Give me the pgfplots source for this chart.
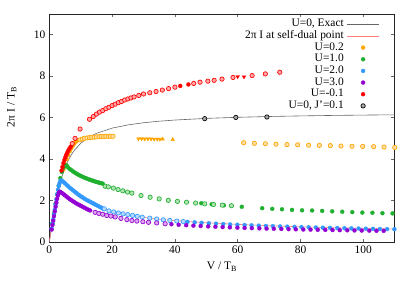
\documentclass[border=0pt]{standalone}
\usepackage{fontspec}
\setmainfont{Liberation Serif}
\usepackage{pgfplots}
\pgfplotsset{compat=1.18}
\definecolor{cO}{HTML}{FFA500}
\definecolor{cG}{HTML}{20B030}
\definecolor{cB}{HTML}{3399FF}
\definecolor{cP}{HTML}{9400D3}
\definecolor{cR}{HTML}{FF0000}
\definecolor{cSD}{HTML}{FF8080}
\pgfplotsset{
  mklegend/.style={legend image code/.code={\draw[mark repeat=2,mark phase=2,##1] plot coordinates {(0cm,0cm) (0.565cm,0cm) (1.13cm,0cm)};}},
  mk/.style={only marks, mark=*, mark size=2.0pt, color=#1, mark options={fill=#1, draw=#1, line width=0.3pt}, mklegend},
  rg/.style={only marks, mark=*, mark size=2.2pt, color=#1, mark options={draw=#1, fill=#1!35, line width=0.65pt}, forget plot},
  trd/.style={only marks, mark=triangle*, mark size=2.1pt, color=#1, mark options={draw=#1, fill=#1, rotate=180}, forget plot},
  tru/.style={only marks, mark=triangle*, mark size=2.1pt, color=#1, mark options={draw=#1, fill=#1}, forget plot},
  ln/.style={no marks, legend image code/.code={\draw[##1] (0cm,0cm) -- (1.13cm,0cm);}},
}
\begin{document}
\fontsize{11.5}{13.5}\selectfont
\begin{tikzpicture}[font=\fontsize{11.5}{13.5}\selectfont]
\begin{axis}[
  scale only axis, width=345.4bp, height=228bp,
  xmin=0, xmax=110, ymin=0, ymax=11,
  xtick={0,20,...,100}, ytick={0,2,...,10},
  tick align=inside, major tick length=3.5bp,
  tick style={black!60, line width=0.5pt},
  axis line style={black!85, line width=0.7pt},
  /pgf/number format/assume math mode=true,
  tick label style={font=\fontsize{11.5}{13.5}\selectfont},
  label style={font=\fontsize{11.5}{13.5}\selectfont},
  xlabel={V / T\textsubscript{B}},
  ylabel={2π I / T\textsubscript{B}},
  xlabel style={at={(axis description cs:0.5,-0.11)}, anchor=center},
  ylabel style={at={(axis description cs:-0.109,0.592)}, anchor=center},
  legend plot pos=right,
  legend cell align=right,
  legend style={draw=none, fill=none, at={(axis description cs:0.965,0.99)}, anchor=north east,
    font=\fontsize{11.5}{13.5}\selectfont,
    row sep=0pt, nodes={inner ysep=1.2pt, inner xsep=3pt, text height=7.3pt, text depth=2pt}},
]
% exact U=0
\addplot[ln, color=black!60, line width=0.6pt] coordinates {
(0,0) (0.5,0.497) (1,0.980) (1.5,1.435) (2,1.855) (2.5,2.234) (3,2.574) (3.5,2.875) (4,3.142)
(5,3.585) (6,3.931) (7,4.207) (8,4.429) (10,4.761) (12,4.996) (15,5.241) (20,5.494) (25,5.648)
(30,5.753) (35,5.828) (40,5.884) (50,5.964) (60,6.016) (70,6.055) (80,6.083) (90,6.106) (100,6.123) (110,6.137)};
\addlegendentry{U=0, Exact}
% self-dual
\addplot[ln, color=cSD, line width=0.6pt] coordinates {
(0,0) (0.5,0.43) (1,0.86) (1.5,1.3) (2,1.75) (2.5,2.2) (3,2.6) (3.5,2.85) (4,2.93) (4.5,2.9)
(5,2.83) (6,2.69) (7,2.56) (8,2.44) (10,2.2) (12,2.02) (14,1.86) (17,1.62) (20,1.46) (25,1.31)
(30,1.19) (35,1.1) (40,1.03) (50,0.93) (60,0.85) (70,0.785) (80,0.735) (90,0.695) (100,0.66) (110,0.63)};
\addlegendentry{2π I at self-dual point}
% U=0.2
\addplot[mk=cO] coordinates {
(4.5,3.5) (5,3.75) (5.5,4.0) (6,4.2) (6.5,4.38) (7,4.52) (7.5,4.65) (8,4.76) (8.5,4.85) (9,4.9)};
\addlegendentry{U=0.2}
\addplot[rg=cO] coordinates {
(9.8,4.93) (10.5,4.97) (11.2,5.0) (12,5.02) (12.8,5.04) (13.5,5.05) (14.3,5.06) (15,5.07)
(15.8,5.08) (16.5,5.09) (17.3,5.09) (18,5.1) (18.8,5.1) (19.5,5.1) (20.3,5.1)
(61.9,4.79) (65.3,4.76) (68.8,4.74) (72.2,4.72) (75.7,4.70) (79.1,4.69) (82.6,4.67) (86.0,4.66)
(89.5,4.65) (92.9,4.63) (96.4,4.62) (99.8,4.61) (103.3,4.60) (106.6,4.58) (110,4.56)};
\addplot[trd=cO] coordinates {
(28.4,4.98) (29.4,4.98) (30.4,4.97) (31.4,4.97) (32.4,4.97) (33.4,4.96) (34.4,4.96) (35.2,4.96)};
\addplot[tru=cO] coordinates {(36.1,4.96) (39.3,4.94)};
% U=1.0
\addplot[mk=cG] coordinates {
(1,0.9) (1.5,1.38) (2,1.85) (2.5,2.3) (3,2.72) (3.5,3.08) (4,3.38) (4.5,3.58) (5,3.68) (5.5,3.70)
(6,3.594) (6.5,3.528) (7,3.467) (7.5,3.411) (8,3.36) (8.5,3.313) (9,3.269) (9.5,3.228) (10,3.189)
(10.5,3.153) (11,3.119) (11.5,3.087) (12,3.056) (12.5,3.027) (13,3.0) (13.5,2.973) (14,2.948)
(14.5,2.924) (15,2.9) (15.5,2.878) (16,2.857) (16.5,2.836) (17,2.817)
(48.4,1.87) (51.7,1.82) (55.6,1.77) (61.3,1.70) (67.8,1.63) (71,1.60) (74.1,1.58) (77.3,1.55)
(80.5,1.53) (83.7,1.52) (86.9,1.50) (90.1,1.48) (93.3,1.46) (96.5,1.44) (99.7,1.42) (102.9,1.41)
(106.1,1.39) (109.3,1.38)};
\addlegendentry{U=1.0}
\addplot[rg=cG] coordinates {
(17.8,2.69) (18.8,2.66) (20.4,2.60) (21.9,2.53) (23.4,2.47) (24.9,2.41) (26.3,2.36) (29.2,2.24)
(32.1,2.16) (35,2.08) (37.9,2.01) (40.8,1.96) (43.7,1.92) (46.6,1.88) (49.5,1.84) (52.3,1.81)
(55.1,1.78) (58,1.75)};
% U=2.0
\addplot[mk=cB] coordinates {
(0.75,0.65) (1,0.88) (1.25,1.1) (1.5,1.33) (1.75,1.56) (2,1.8) (2.25,2.05) (2.5,2.3) (2.75,2.52)
(3,2.7) (3.25,2.83) (3.5,2.92) (3.75,2.96) (4,2.96) (4.5,2.90) (5,2.83) (5.5,2.76) (6,2.69)
(6.5,2.62) (7,2.56) (7.5,2.50) (8,2.44) (8.5,2.38) (9,2.32) (9.5,2.26) (10,2.21) (10.5,2.16)
(11,2.11) (11.5,2.06) (12,2.02) (12.5,1.98) (13,1.94) (13.5,1.90) (14,1.86) (14.5,1.82) (15,1.78)
(15.5,1.74) (16,1.70) (16.5,1.66) (17,1.62)
(44.0,0.972) (46.3,0.948) (48.5,0.926) (50.8,0.905) (53.1,0.885) (55.4,0.867) (57.6,0.850)
(59.9,0.833) (62.2,0.818) (64.4,0.804) (66.7,0.790) (69.0,0.776) (71.2,0.764) (73.5,0.752)
(75.8,0.741) (78.1,0.730) (80.3,0.720) (82.6,0.710) (84.9,0.700) (87.1,0.691) (89.4,0.682)
(91.7,0.674) (94.0,0.665) (96.2,0.658) (98.5,0.650) (100.8,0.642) (103.1,0.635) (105.3,0.629)
(107.6,0.622) (109.9,0.615)};
\addlegendentry{U=2.0}
\addplot[rg=cB] coordinates {
(17.5,1.60) (19,1.50) (20.5,1.45) (22,1.40) (23.5,1.36) (25,1.32) (26.5,1.28) (28,1.24)
(29.6,1.20) (32,1.15) (34.2,1.11) (36.3,1.07) (38.4,1.04) (40.6,1.01) (42.7,0.985)};
% U=3.0
\addplot[mk=cP] coordinates {
(0.75,0.6) (1,0.82) (1.25,1.03) (1.5,1.25) (1.75,1.48) (2,1.7) (2.25,1.9) (2.5,2.08) (2.75,2.24)
(3,2.36) (3.25,2.42) (3.5,2.42) (4,2.37) (4.5,2.31) (5,2.25) (5.5,2.19) (6,2.13) (6.5,2.07)
(7,2.02) (7.5,1.97) (8,1.92) (8.5,1.87) (9,1.83) (9.5,1.79) (10,1.75) (10.5,1.71) (11,1.67)
(11.5,1.63) (12,1.59) (12.5,1.55) (13,1.52)
(38.9,0.858) (41.2,0.833) (43.6,0.810) (45.9,0.790) (48.2,0.771) (50.6,0.752) (52.9,0.736)
(55.2,0.720) (57.5,0.706) (59.9,0.691) (62.2,0.680) (64.5,0.668) (66.9,0.657) (69.2,0.647)
(71.5,0.638) (73.9,0.628) (76.2,0.620) (78.5,0.612) (80.9,0.604) (83.2,0.597) (85.5,0.590)
(87.9,0.583) (90.2,0.576) (92.5,0.570) (94.9,0.564) (97.2,0.558) (99.5,0.552) (101.9,0.547)
(104.2,0.542) (106.5,0.537)};
\addlegendentry{U=3.0}
\addplot[rg=cP] coordinates {
(14.6,1.43) (15.8,1.38) (17,1.34) (18.3,1.28) (19.6,1.25) (21,1.21) (22.8,1.14) (24.7,1.08)
(26.3,1.04) (27.9,1.01) (29.8,0.98) (31.6,0.95) (34.2,0.92) (36.9,0.88)};
% U=-0.1
\addplot[mk=cR] coordinates {
(3.9,3.45) (4.2,3.62) (4.5,3.8) (4.8,3.95) (5.1,4.08) (5.4,4.2) (5.7,4.3) (6.0,4.4) (6.4,4.5) (6.8,4.6)
(41.7,7.53) (44.3,7.60)};
\addlegendentry{U=-0.1}
\addplot[rg=cR] coordinates {
(7.3,4.75) (8.2,5.0) (9.8,5.45) (12.8,5.92) (14.0,6.05) (15.0,6.17) (16.0,6.27) (17.0,6.34)
(18.0,6.43) (19.0,6.50) (20.0,6.58) (21.0,6.65) (22.0,6.72) (23.0,6.78) (24.0,6.85) (25.0,6.90)
(26.0,6.95) (27.0,7.0) (28.5,7.07) (30.0,7.14) (32.0,7.2) (34.0,7.26) (36.0,7.33) (38.0,7.40)
(40.0,7.47) (46.0,7.65) (48.0,7.71) (50.5,7.76) (52.5,7.80) (55.0,7.86) (58.5,7.94)
(64.6,8.03) (68.8,8.11) (73.4,8.19)};
\addplot[trd=cR] coordinates {(60,7.98) (62,7.97)};
% U=0, J'=0.1
\addplot[only marks, mark=*, mark size=2.2pt, color=black, mark options={draw=black, fill=black!35, line width=0.65pt}, mklegend] coordinates {
(49.5,5.95) (59.4,6.01) (69.3,6.03)};
\addlegendentry{U=0, J'=0.1}
\end{axis}
\pgfresetboundingbox
\path ([shift={(-49.3bp,-49bp)}]current axis.south west) rectangle ([shift={(20.3bp,14bp)}]current axis.north east);
\end{tikzpicture}
\end{document}
